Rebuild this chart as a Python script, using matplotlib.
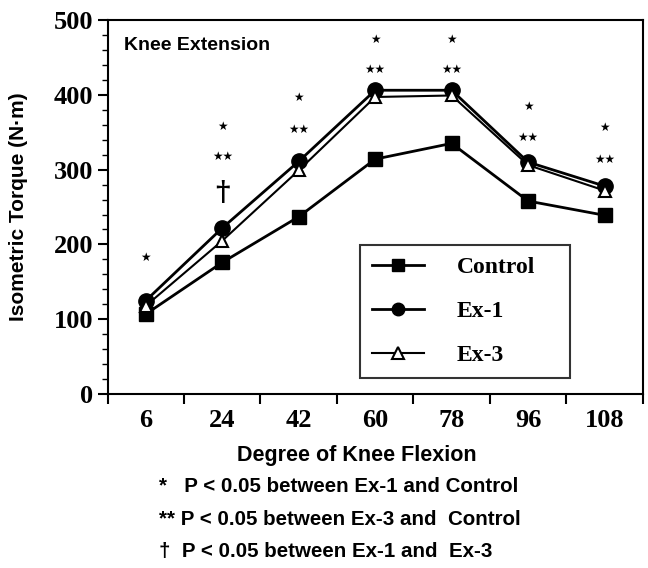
import numpy as np
import matplotlib.pyplot as plt

# 무릎 굴곡 각도별 등척성 토크
angles = ['6', '24', '42', '60', '78', '96', '108']
control = [107, 176, 237, 314, 335, 258, 239]
ex1 = [125, 222, 311, 406, 406, 310, 278]
ex3 = [118, 205, 299, 397, 399, 306, 272]

# 유의성 표시 (각도 index, y값, 기호)
sig_marks = [
    (0, 182, '*'),
    (1, 357, '*'), (1, 317, '**'), (1, 268, '†'),
    (2, 396, '*'), (2, 354, '**'),
    (3, 474, '*'), (3, 434, '**'),
    (4, 474, '*'), (4, 434, '**'),
    (5, 384, '*'), (5, 343, '**'),
    (6, 356, '*'), (6, 314, '**'),
]

serif = 'Liberation Serif'
sans = 'Liberation Sans'

fig = plt.figure(figsize=(6.48, 5.68), dpi=100)
ax = fig.add_axes([0.166, 0.306, 0.826, 0.659])

x = np.arange(len(angles))
ax.plot(x, control, color='black', lw=2, marker='s', ms=10, label='Control', zorder=3)
ax.plot(x, ex1, color='black', lw=2, marker='o', ms=11, label='Ex-1', zorder=4)
ax.plot(x, ex3, color='black', lw=1.5, marker='^', ms=9, mfc='white', mec='black',
        mew=1.5, label='Ex-3', zorder=5)

for i, y, s in sig_marks:
    if s == '†':
        ax.text(i, y, s, ha='center', va='center', fontsize=20, fontweight='bold',
                family=['DejaVu Serif'])
    else:
        ax.text(i, y, s.replace('*', '★'), ha='center', va='center', fontsize=8.5,
                family=['DejaVu Sans'])

ax.text(0.03, 0.955, 'Knee Extension', transform=ax.transAxes, ha='left', va='top',
        fontsize=14, fontweight='bold', family=[sans])

ax.set_xlim(-0.5, 6.5)
ax.set_ylim(0, 500)
ax.set_xticks(np.arange(-0.5, 7, 1))
ax.set_xticklabels([])
ax.set_xticks(x, minor=True)
ax.set_xticklabels(angles, minor=True, fontsize=19, fontweight='bold', family=serif)
ax.tick_params(axis='x', which='major', direction='out', length=7, width=1.5)
ax.tick_params(axis='x', which='minor', length=0, pad=11)

ax.set_yticks(np.arange(0, 501, 100))
ax.set_yticks(np.arange(0, 501, 20), minor=True)
ax.set_yticklabels([str(v) for v in range(0, 501, 100)], fontsize=19,
                   fontweight='bold', family=serif)
ax.tick_params(axis='y', which='major', direction='out', length=7, width=1.5)
ax.tick_params(axis='y', which='minor', direction='out', length=4, width=1)

for sp in ax.spines.values():
    sp.set_linewidth(1.5)

ax.set_xlabel('Degree of Knee Flexion', fontsize=15.5, fontweight='bold', family=sans)
ax.xaxis.set_label_coords(0.465, -0.137)
ax.set_ylabel('Isometric Torque (N·m)', fontsize=15, fontweight='bold', family=sans)
ax.yaxis.set_label_coords(-0.148, 0.5)

leg = ax.legend(loc='lower left', bbox_to_anchor=(0.472, 0.043, 0.392, 0.364),
                mode='expand', prop={'family': serif, 'weight': 'bold', 'size': 17},
                frameon=True, fancybox=False, edgecolor='black', handlelength=2.2,
                labelspacing=0.95, borderpad=0.5, handletextpad=1.4,
                borderaxespad=0)
leg.get_frame().set_linewidth(1.5)
for ln in leg.get_lines():
    ln.set_markersize(9)

notes = ['*   P < 0.05 between Ex-1 and Control',
         '** P < 0.05 between Ex-3 and  Control',
         '†  P < 0.05 between Ex-1 and  Ex-3']
for k, t in enumerate(notes):
    fig.text(0.245, 0.143 - k * 0.057, t, fontsize=14.8, fontweight='bold',
             family=[sans, 'DejaVu Sans'], ha='left', va='center')

fig.savefig('out.png', dpi=100)
